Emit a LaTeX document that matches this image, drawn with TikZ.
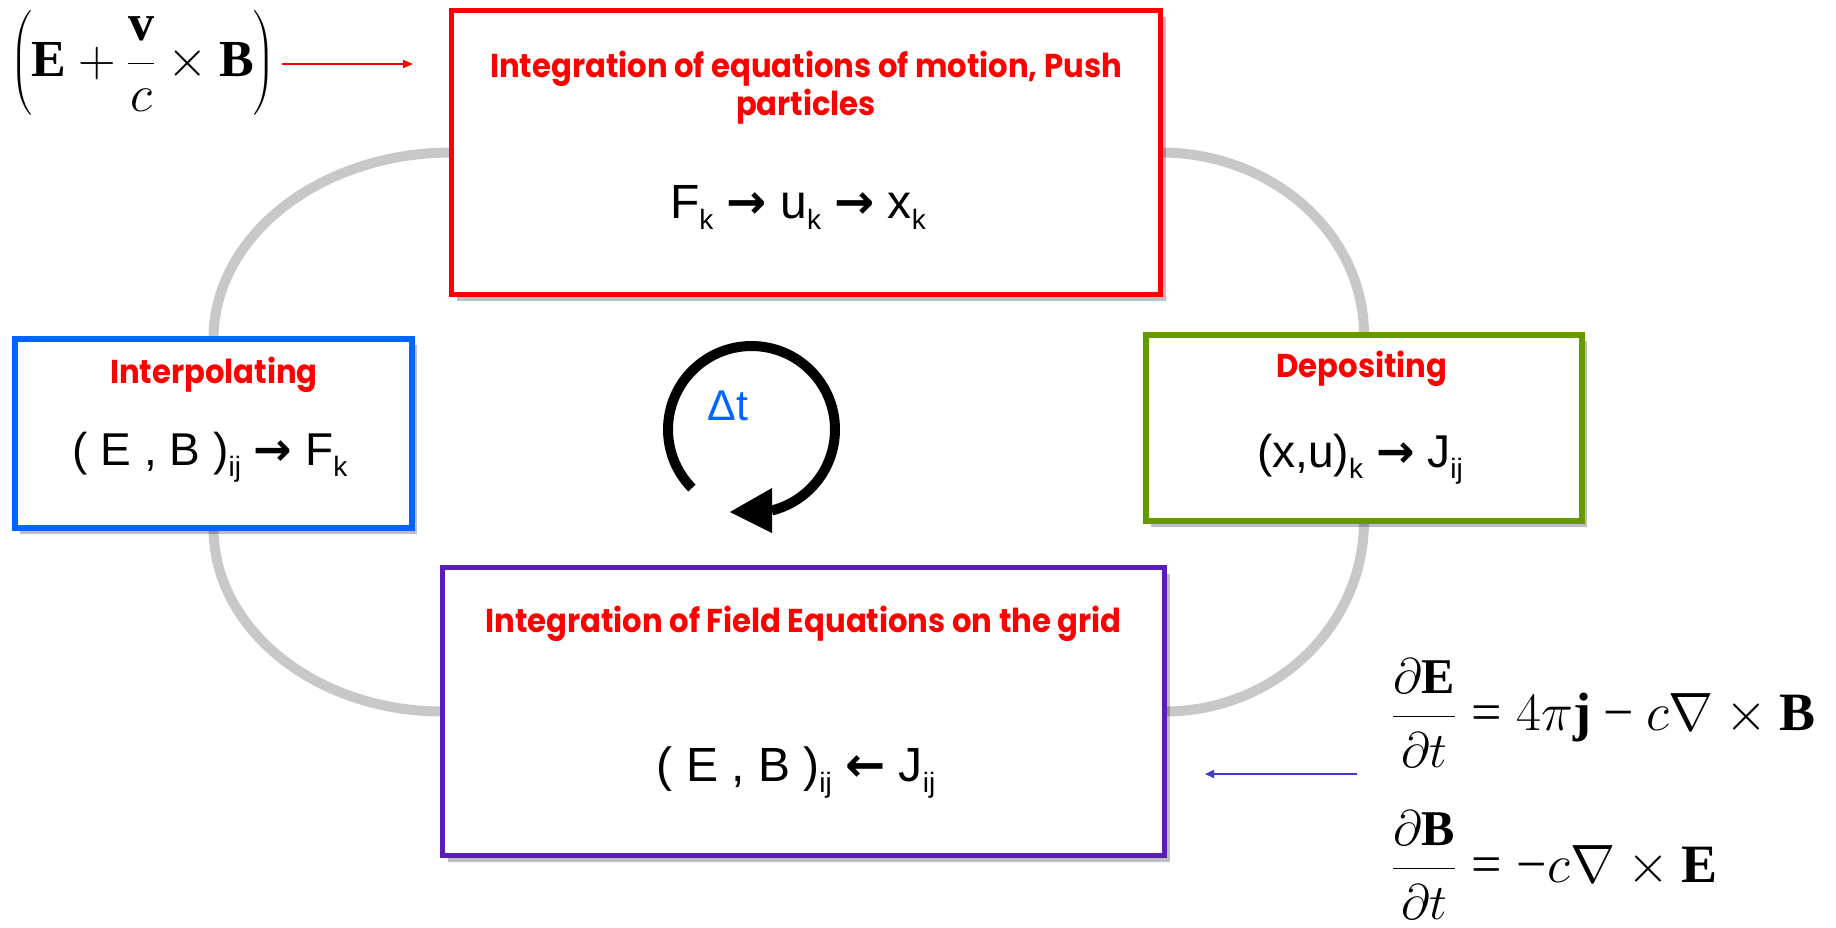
\documentclass[tikz,border=0pt]{standalone}
\usepackage{fix-cm}
\usepackage{amsmath}
\usepackage{graphicx}
\usepackage{fontspec}
\setmainfont{Liberation Serif}
\newfontfamily\arial{Liberation Sans}
\newfontfamily\ttl{Poppins}
\newfontfamily\arw{DejaVu Sans}
\usetikzlibrary{calc,arrows.meta,shadows}
\pgfdeclarelayer{background}
\pgfsetlayers{background,main}

\definecolor{boxred}{RGB}{255,0,0}
\definecolor{boxblue}{RGB}{0,102,255}
\definecolor{boxgreen}{RGB}{102,153,0}
\definecolor{boxpurple}{RGB}{91,29,184}
\definecolor{arcgray}{RGB}{200,200,200}
\definecolor{dtblue}{RGB}{0,102,255}
\definecolor{arrblue}{RGB}{60,60,210}

\newcommand{\fsz}[1]{\fontsize{#1}{#1}\selectfont}
\newcommand{\subx}[1]{\raisebox{-11pt}{\fsz{28}#1}}
\newcommand{\rarr}{{\arw\bfseries →}}
\newcommand{\larr}{{\arw\bfseries ←}}
\newcommand{\ttlscale}[1]{\scalebox{0.93}[1]{#1}}
\newcommand{\teq}{\mathrel{\text{=}}}
\newcommand{\tminus}{\mathbin{\text{−}}}

\begin{document}
\begin{tikzpicture}[x=1pt,y=-1pt,
  box/.style={draw, fill=white, rectangle, inner sep=0pt, outer sep=0pt,
    drop shadow={shadow xshift=5pt, shadow yshift=-6pt, fill=black, opacity=0.25}},
  arcline/.style={draw=arcgray, line width=10pt},
  ttlt/.style={text=red, font=\ttl\bfseries\fsz{33}, anchor=base, inner sep=0pt},
  frm/.style={font=\arial\fsz{46}, anchor=base, inner sep=0pt},
  eqn/.style={anchor=base west, inner sep=0pt}]

\useasboundingbox (0,0) rectangle (1836,927);

% boxes
\node[box, draw=boxred, line width=5pt, minimum width=709pt, minimum height=284pt] (top) at (806,152.5) {};
\node[box, draw=boxblue, line width=6pt, minimum width=397pt, minimum height=189pt] (left) at (213.5,433.5) {};
\node[box, draw=boxgreen, line width=6pt, minimum width=436pt, minimum height=186pt] (right) at (1364,428) {};
\node[box, draw=boxpurple, line width=5pt, minimum width=722pt, minimum height=288pt] (bottom) at (803.5,711.5) {};

% gray cycle arcs
\begin{pgfonlayer}{background}
\fill[white] (0,0) rectangle (1836,927);
\draw[arcline] (top.west) .. controls ($(top.west)!0.5523!(top.west -| left.north)$) and ($(left.north)!0.5523!(top.west -| left.north)$) .. (left.north);
\draw[arcline] (top.east) .. controls ($(top.east)!0.5523!(top.east -| right.north)$) and ($(right.north)!0.5523!(top.east -| right.north)$) .. (right.north);
\draw[arcline] (bottom.west) .. controls ($(bottom.west)!0.5523!(bottom.west -| left.south)$) and ($(left.south)!0.5523!(bottom.west -| left.south)$) .. (left.south);
\draw[arcline] (bottom.east) .. controls ($(bottom.east)!0.5523!(bottom.east -| right.south)$) and ($(right.south)!0.5523!(bottom.east -| right.south)$) .. (right.south);
\end{pgfonlayer}

% box texts
\node[ttlt] (t1a) at (806,77) {\ttlscale{Integration of equations of motion, Push}};
\node[ttlt] (t1b) at (806,115) {\ttlscale{particles}};
\node[frm, font=\arial\fsz{48}] (f1) at (798,218) {F\subx{k} \rarr{} u\subx{k} \rarr{} x\subx{k}};

\node[ttlt] (t2) at (214,383) {\ttlscale{Interpolating}};
\node[frm] (f2) at (210,465) {( E , B )\subx{ij} \rarr{} F\subx{k}};

\node[ttlt] (t3) at (1362,377) {\ttlscale{Depositing}};
\node[frm] (f3) at (1360,467) {(x,u)\subx{k} \rarr{} J\subx{ij}};

\node[ttlt] (t4) at (803.5,632) {\ttlscale{Integration of Field Equations on the grid}};
\node[frm, font=\arial\fsz{48}] (f4) at (796,781) {( E , B )\subx{ij} \larr{} J\subx{ij}};

% time-step loop
\coordinate (lc) at (751.5,429.5);
\draw[line width=10pt, black] ($(lc)+(135.5:83.5)$) arc[start angle=135.5, end angle=436, radius=83.5];
\fill[black] (730,512) -- (772,488) -- (772,533) -- cycle;
\node[text=dtblue, font=\arial\fsz{43}, anchor=base, inner sep=0pt] (dt) at (728,420) {Δt};

% Lorentz force
\node[eqn, font=\fsz{52}] (lorentz) at (10,76) {$\left(\mathbf{E}+\dfrac{\mathbf{v}}{c}\times\mathbf{B}\right)$};
\coordinate (ra1) at (282,64);
\coordinate (ra2) at (413,64);
\draw[boxred, line width=2pt, -{Triangle[length=10pt,width=8pt]}] (ra1) -- (ra2);

% Maxwell
\node[eqn, font=\fsz{54}] (maxE) at (1392,730) {$\dfrac{\text{\fsz{50}$\partial\mathbf{E}$}}{\text{\fsz{50}$\partial t$}} \teq 4\pi\mathbf{j} \tminus c\nabla\times\mathbf{B}$};
\node[eqn, font=\fsz{54}] (maxB) at (1392,882) {$\dfrac{\text{\fsz{50}$\partial\mathbf{B}$}}{\text{\fsz{50}$\partial t$}} \teq {\text{−}}c\nabla\times\mathbf{E}$};
\coordinate (ba1) at (1357,774);
\coordinate (ba2) at (1205,774);
\draw[arrblue, line width=2pt, -{Triangle[length=9pt,width=8pt]}] (ba1) -- (ba2);
\end{tikzpicture}
\end{document}
